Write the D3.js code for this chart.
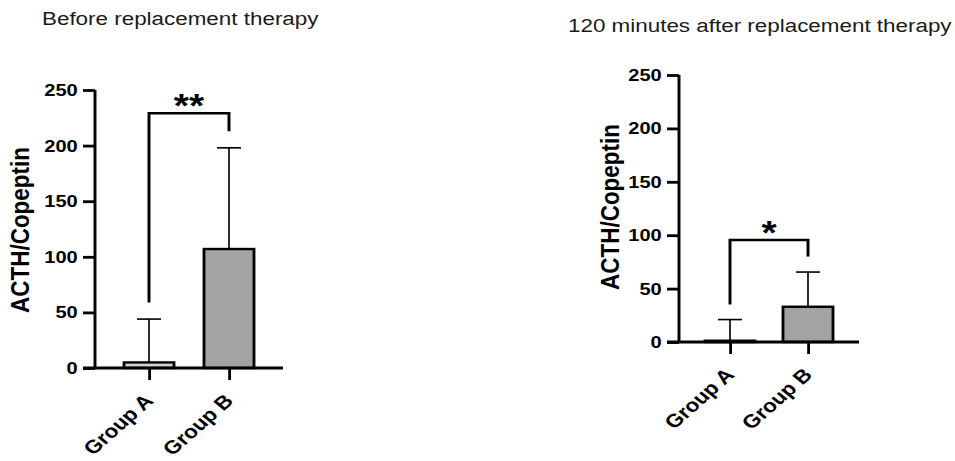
<!DOCTYPE html>
<html><head><meta charset="utf-8">
<script src="https://cdn.jsdelivr.net/npm/d3@7"></script>
<style>body{margin:0;background:#fff}svg{display:block}</style>
</head><body>
<svg id="chart" width="955" height="461"></svg>
<script>
const categories = ["Group A", "Group B"];
const yTicks = [0, 50, 100, 150, 200, 250];
const beforeMeans = [5, 107];
const beforeErrTop = [44, 198];
const afterMeans = [1.2, 33];
const afterErrTop = [21, 65.5];
const beforeSig = { label: "**", y: 229, leftEnd: 59, rightEnd: 213 };
const afterSig = { label: "*", y: 95.5, leftEnd: 35, rightEnd: 80 };
const titles = ["Before replacement therapy", "120 minutes after replacement therapy"];
const fills = ["#d4d4d4", "#a3a3a6"];

const SX = 1.18; // the reference figure is stretched horizontally
const svg = d3.select("#chart");
const root = svg.append("g").attr("transform", `scale(${SX},1)`);
const FONT = "Arial, 'Liberation Sans', sans-serif";

function panel(opt) {
  const g = root.append("g");
  const y = d3.scaleLinear().domain([0, 250]).range([opt.y0, opt.y250]);
  const x = d3.scalePoint().domain(categories).range([opt.xa / SX, opt.xb / SX]).padding(opt.pad);
  const bw = 50 / SX, cw = 24 / SX;

  // title
  g.append("text").attr("x", opt.tx / SX).attr("y", opt.ty).text(opt.title)
    .attr("font-family", FONT).attr("font-size", 19).attr("fill", "#1a1a1a");

  // error bars (upper)
  categories.forEach((c, i) => {
    const cx = x(c);
    g.append("line").attr("x1", cx).attr("x2", cx).attr("y1", y(opt.means[i])).attr("y2", y(opt.err[i]))
      .attr("stroke", "#000").attr("stroke-width", 1.4);
    g.append("line").attr("x1", cx - cw / 2).attr("x2", cx + cw / 2).attr("y1", y(opt.err[i])).attr("y2", y(opt.err[i]))
      .attr("stroke", "#000").attr("stroke-width", 1.6);
  });
  // bars
  g.selectAll("rect.bar").data(categories).join("rect").attr("class", "bar")
    .attr("x", d => x(d) - bw / 2).attr("width", bw)
    .attr("y", (d, i) => y(opt.means[i])).attr("height", (d, i) => y(0) - y(opt.means[i]))
    .attr("fill", (d, i) => fills[i]).attr("stroke", "#000").attr("stroke-width", 2.4);

  // y axis
  const ya = g.append("g").attr("transform", `translate(${opt.xa / SX},0)`)
    .call(d3.axisLeft(y).tickValues(yTicks).tickSize(12 / SX).tickPadding(4.5));
  ya.select(".domain").attr("stroke-width", 2.5).attr("d", `M0,${y(250)}V${y(0)}`);
  ya.selectAll(".tick line").attr("stroke-width", 2.8);
  ya.selectAll(".tick text").attr("font-family", FONT).attr("font-size", 17).attr("font-weight", "bold").attr("fill", "#000");

  // x axis
  const xa = g.append("g").attr("transform", `translate(0,${opt.y0})`)
    .call(d3.axisBottom(x).tickSize(12).tickSizeOuter(0));
  xa.select(".domain").attr("stroke-width", 2.8).attr("d", `M${(opt.xa - 12) / SX},0H${opt.xb / SX}`);
  xa.selectAll(".tick line").attr("stroke-width", 2.4);
  xa.selectAll(".tick text").attr("font-family", FONT).attr("font-size", 19).attr("font-weight", "bold").attr("fill", "#000")
    .attr("text-anchor", "end").attr("dy", null).attr("y", 0)
    .attr("transform", `translate(${5 / SX},34) rotate(-46)`);

  // y label
  g.append("text").attr("transform", `translate(${opt.lx / SX},${opt.ly}) rotate(-90)`)
    .attr("text-anchor", "middle").text("ACTH/Copeptin")
    .attr("font-family", FONT).attr("font-size", 22.5).attr("font-weight", "bold").attr("fill", "#000");

  // significance bracket
  const s = opt.sig;
  const xl = x(categories[0]), xr = x(categories[1]);
  g.append("path").attr("d", `M${xl},${y(s.leftEnd)}V${y(s.y)}H${xr}V${y(s.rightEnd)}`)
    .attr("fill", "none").attr("stroke", "#000").attr("stroke-width", 2.5);
  g.append("text").attr("x", (xl + xr) / 2).attr("y", y(s.y) + 4).attr("text-anchor", "middle")
    .text(s.label).attr("font-family", FONT).attr("font-size", 33).attr("font-weight", "bold").attr("fill", "#000");
}

panel({ title: titles[0], tx: 42, ty: 25, xa: 95, xb: 283, pad: 0.675, y0: 368, y250: 90,
  means: beforeMeans, err: beforeErrTop, sig: beforeSig, lx: 29, ly: 230 });
panel({ title: titles[1], tx: 568, ty: 32, xa: 679, xb: 859, pad: 0.654, y0: 342, y250: 75,
  means: afterMeans, err: afterErrTop, sig: afterSig, lx: 619, ly: 207 });
</script>
</body></html>
